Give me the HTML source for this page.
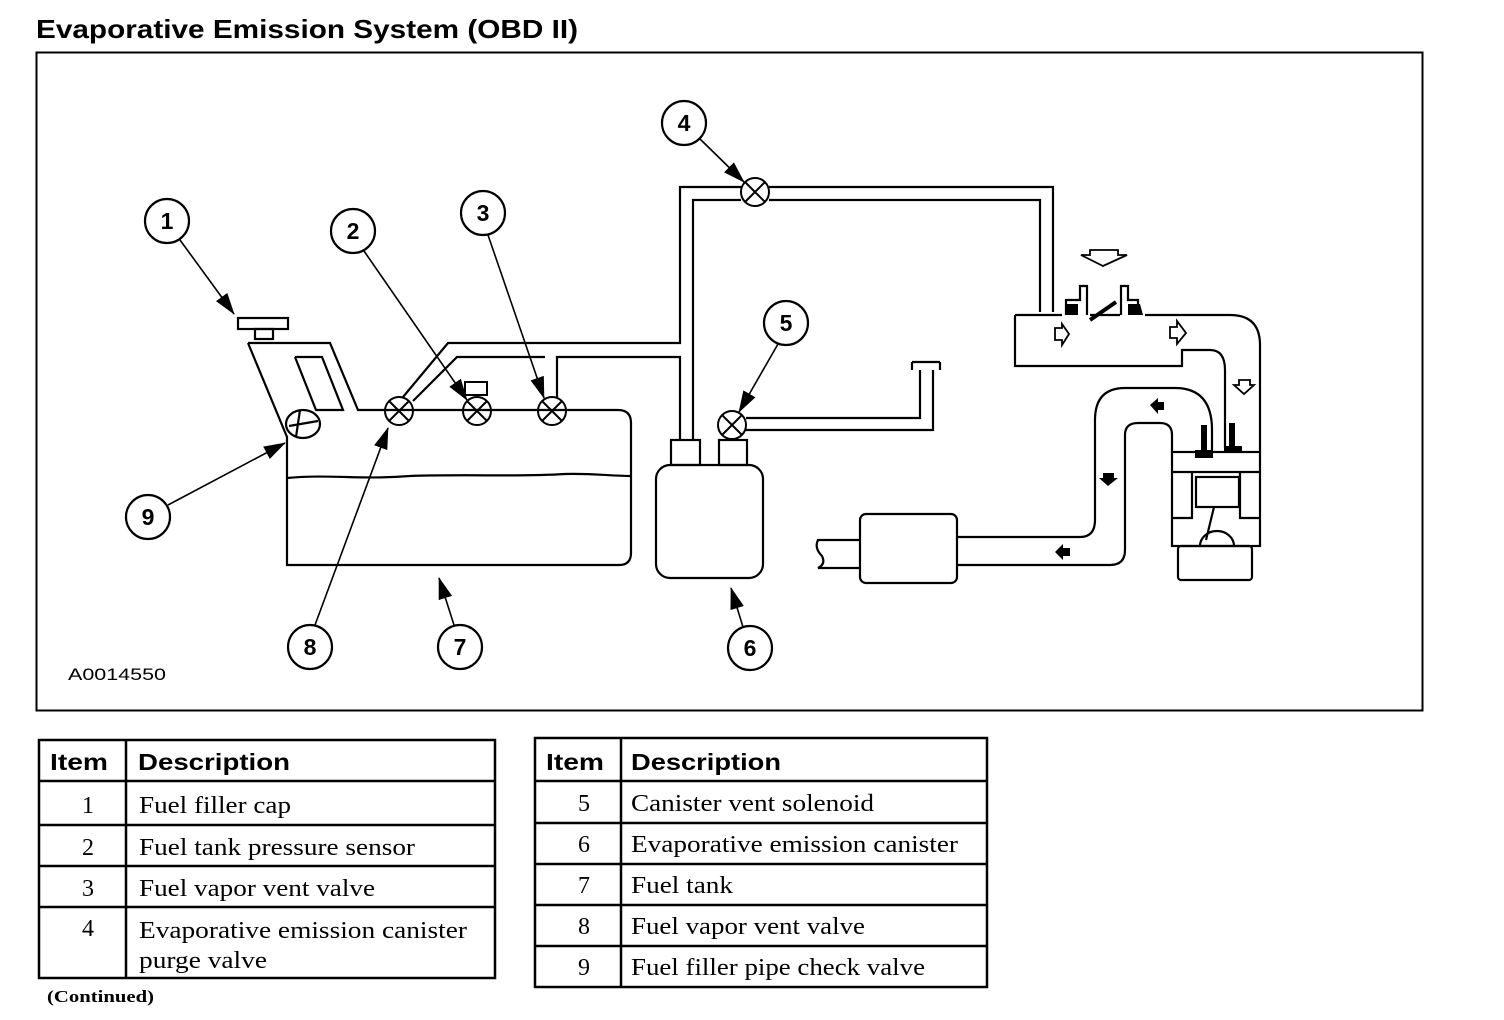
<!DOCTYPE html>
<html><head><meta charset="utf-8"><style>
html,body{margin:0;padding:0;background:#fff;width:1504px;height:1020px;overflow:hidden}
svg{display:block}
.s{font-family:"Liberation Sans",sans-serif;font-weight:bold}
.r{font-family:"Liberation Serif",serif}
</style></head><body>
<svg width="1504" height="1020" viewBox="0 0 1504 1020" xmlns="http://www.w3.org/2000/svg">
<defs>
<marker id="A" markerWidth="22" markerHeight="14" refX="21" refY="7" orient="auto" markerUnits="userSpaceOnUse"><path d="M0,0 L22,7 L0,14z" fill="#000"/></marker></defs>
<text x="36" y="38" class="s" font-size="26" textLength="542" lengthAdjust="spacingAndGlyphs">Evaporative Emission System (OBD II)</text>
<rect x="36.5" y="52.5" width="1386" height="658" fill="none" stroke="#000" stroke-width="2"/>
<g fill="none" stroke="#000" stroke-width="2.2">
<rect x="238" y="318" width="50" height="11"/><rect x="255" y="329" width="18" height="10"/>
<path d="M248,343 L330,343 L358,410 L618,410 Q631,410 631,423 L631,553 Q631,565 619,565 L287,565 L287,437 L248,343"/>
<path d="M295,357 L322,357 L343,410 L316,410 L295,357"/>
<path d="M287,478 C330,474 360,480 410,476 C470,474 520,477 565,474 C590,473 610,476 631,476"/>
<ellipse cx="303" cy="424" rx="17" ry="14"/>
<path d="M289,426 L318,421 M300,410 L296,437"/>
<g stroke-width="2">
<circle cx="399" cy="411" r="14"/><path d="M389,401L409,421M409,401L389,421"/>
<circle cx="477" cy="411" r="14"/><path d="M467,401L487,421M487,401L467,421"/><rect x="465" y="382" width="22" height="13"/>
<circle cx="552" cy="411" r="14"/><path d="M542,401L562,421M562,401L542,421"/>
<circle cx="755" cy="192" r="14"/><path d="M745,182L765,202M765,182L745,202"/>
<circle cx="732" cy="425" r="14"/><path d="M722,415L742,435M742,415L722,435"/>
</g>
<path d="M403,397 L448,343 L680,343 L680,187 L741,187"/>
<path d="M413,401 L457,357 L545,357 M557,397 L557,357 L680,357 L680,440"/>
<path d="M693,440 L693,200 L741,200 M769,187 L1053,187 L1053,312 M769,200 L1040,200 L1040,312"/>
<rect x="656" y="465" width="107" height="113" rx="14"/>
<rect x="671" y="440" width="29" height="25"/><rect x="719" y="440" width="28" height="25"/>
<path d="M746,418 L920,418 L920,370 M746,430 L933,430 L933,370 M912,362 L940,362 M912,362 L912,370 M940,362 L940,370"/>
<rect x="860" y="514" width="97" height="69" rx="6"/>
<path d="M860,540 L818,540 Q814,548 822,556 Q826,564 818,568 L860,568"/>
<path d="M957,537 L1080,537 Q1095,537 1095,520 L1095,420 Q1095,388 1125,388 L1175,388 Q1212,388 1212,430 L1212,452"/>
<path d="M957,565 L1110,565 Q1125,565 1125,550 L1125,435 Q1125,423 1138,423 L1160,423 Q1172,423 1172,435 L1172,452"/>
<path d="M1015,315 L1015,366 L1182,366 L1182,350 L1210,350 Q1225,350 1225,370 L1225,448"/>
<path d="M1015,315 L1062,315 M1090,315 L1120,315 M1145,315 L1230,315 Q1260,315 1260,345 L1260,452"/>
<rect x="1172" y="452" width="88" height="94"/>
<path d="M1172,472 L1192,472 L1192,518 L1172,518 M1260,472 L1240,472 L1240,518 L1260,518 M1192,472 L1240,472"/>
<rect x="1196" y="477" width="43" height="30"/>
<path d="M1200,546 A17,15 0 0 1 1234,546 M1214,507 L1206,540"/>
<rect x="1178" y="546" width="74" height="34" rx="3"/>
<path d="M1066,315 L1066,300 L1080,300 L1080,286 L1087,286 L1087,315 M1138,315 L1138,300 L1128,300 L1128,286 L1121,286 L1121,315"/>
<path d="M1090,320 L1116,302" stroke-width="4"/>
<path d="M1081,255 L1090,255 L1090,250 L1118,250 L1118,255 L1127,255 L1103,266z" stroke-width="1.8"/>
<path d="M1055,328 L1062,328 L1062,324 L1069,334 L1062,345 L1062,340 L1055,340z" stroke-width="1.8"/>
<path d="M1170,327 L1177,327 L1177,321 L1186,333 L1177,344 L1177,338 L1170,338z" stroke-width="1.8"/>
<path d="M1239,380 L1250,380 L1250,385 L1254,385 L1244,394 L1234,385 L1239,385z" stroke-width="1.8"/>
<g stroke-width="2.2">
<circle cx="167" cy="221" r="22"/><circle cx="353" cy="231" r="22"/><circle cx="483" cy="213" r="22"/>
<circle cx="684" cy="123" r="22"/><circle cx="786" cy="323" r="22"/><circle cx="750" cy="648" r="22"/>
<circle cx="460" cy="647" r="22"/><circle cx="310" cy="647" r="22"/><circle cx="148" cy="517" r="22"/>
</g>
<g stroke-width="1.6">
<path d="M180,240 L234,314" marker-end="url(#A)"/>
<path d="M364,251 L467,400" marker-end="url(#A)"/>
<path d="M488,235 L544,398" marker-end="url(#A)"/>
<path d="M700,139 L744,182" marker-end="url(#A)"/>
<path d="M778,344 L739,412" marker-end="url(#A)"/>
<path d="M743,627 L731,588" marker-end="url(#A)"/>
<path d="M454,625 L439,578" marker-end="url(#A)"/>
<path d="M315,625 L388,428" marker-end="url(#A)"/>
<path d="M168,505 L285,443" marker-end="url(#A)"/>
</g>
</g>
<g fill="#000">
<rect x="1201" y="425" width="6" height="27"/><rect x="1195" y="450" width="18" height="8"/>
<rect x="1229" y="423" width="6" height="25"/><rect x="1224" y="446" width="18" height="6"/>
<path d="M1066,315 L1066,304 L1078,304 L1078,315z M1128,304 L1140,304 L1143,315 L1128,315z"/>
<path d="M1150,405 L1158,398 L1158,402 L1164,402 L1164,410 L1158,410 L1158,414z"/>
<path d="M1103,473 L1114,473 L1114,478 L1118,478 L1108,486 L1099,478 L1103,478z"/>
<path d="M1055,552 L1063,544 L1063,548 L1070,548 L1070,556 L1063,556 L1063,560z"/>
</g>
<g class="s" font-size="23" text-anchor="middle">
<text x="167" y="229">1</text><text x="353" y="239">2</text><text x="483" y="221">3</text>
<text x="684" y="131">4</text><text x="786" y="331">5</text><text x="750" y="656">6</text>
<text x="460" y="655">7</text><text x="310" y="655">8</text><text x="148" y="525">9</text>
</g>
<text x="68" y="680" font-family="Liberation Sans, sans-serif" font-size="17" textLength="98" lengthAdjust="spacingAndGlyphs">A0014550</text>
<g fill="none" stroke="#000" stroke-width="2.5">
<rect x="39" y="740" width="456" height="238"/>
<path d="M126,740 L126,978 M39,781 L495,781 M39,825 L495,825 M39,866 L495,866 M39,907 L495,907"/>
<rect x="535" y="738" width="452" height="249"/>
<path d="M621,738 L621,987 M535,781 L987,781 M535,823 L987,823 M535,864 L987,864 M535,905 L987,905 M535,946 L987,946"/>
</g>
<g class="s" font-size="23">
<text x="50" y="770" textLength="58" lengthAdjust="spacingAndGlyphs">Item</text><text x="138" y="770" textLength="152" lengthAdjust="spacingAndGlyphs">Description</text>
<text x="546" y="770" textLength="58" lengthAdjust="spacingAndGlyphs">Item</text><text x="631" y="770" textLength="150" lengthAdjust="spacingAndGlyphs">Description</text></g>
<g class="r" font-size="24">
<text x="88" y="813" text-anchor="middle">1</text><text x="139" y="813" textLength="152" lengthAdjust="spacingAndGlyphs">Fuel filler cap</text>
<text x="88" y="855" text-anchor="middle">2</text><text x="139" y="855" textLength="276" lengthAdjust="spacingAndGlyphs">Fuel tank pressure sensor</text>
<text x="88" y="896" text-anchor="middle">3</text><text x="139" y="896" textLength="236" lengthAdjust="spacingAndGlyphs">Fuel vapor vent valve</text>
<text x="88" y="936" text-anchor="middle">4</text><text x="139" y="938" textLength="328" lengthAdjust="spacingAndGlyphs">Evaporative emission canister</text><text x="139" y="968" textLength="128" lengthAdjust="spacingAndGlyphs">purge valve</text>
<text x="584" y="811" text-anchor="middle">5</text><text x="631" y="811" textLength="243" lengthAdjust="spacingAndGlyphs">Canister vent solenoid</text>
<text x="584" y="852" text-anchor="middle">6</text><text x="631" y="852" textLength="327" lengthAdjust="spacingAndGlyphs">Evaporative emission canister</text>
<text x="584" y="893" text-anchor="middle">7</text><text x="631" y="893" textLength="102" lengthAdjust="spacingAndGlyphs">Fuel tank</text>
<text x="584" y="934" text-anchor="middle">8</text><text x="631" y="934" textLength="234" lengthAdjust="spacingAndGlyphs">Fuel vapor vent valve</text>
<text x="584" y="975" text-anchor="middle">9</text><text x="631" y="975" textLength="294" lengthAdjust="spacingAndGlyphs">Fuel filler pipe check valve</text>
</g>
<text x="47" y="1002" class="r" font-size="17" font-weight="bold" textLength="107" lengthAdjust="spacingAndGlyphs">(Continued)</text>
</svg>
</body></html>
